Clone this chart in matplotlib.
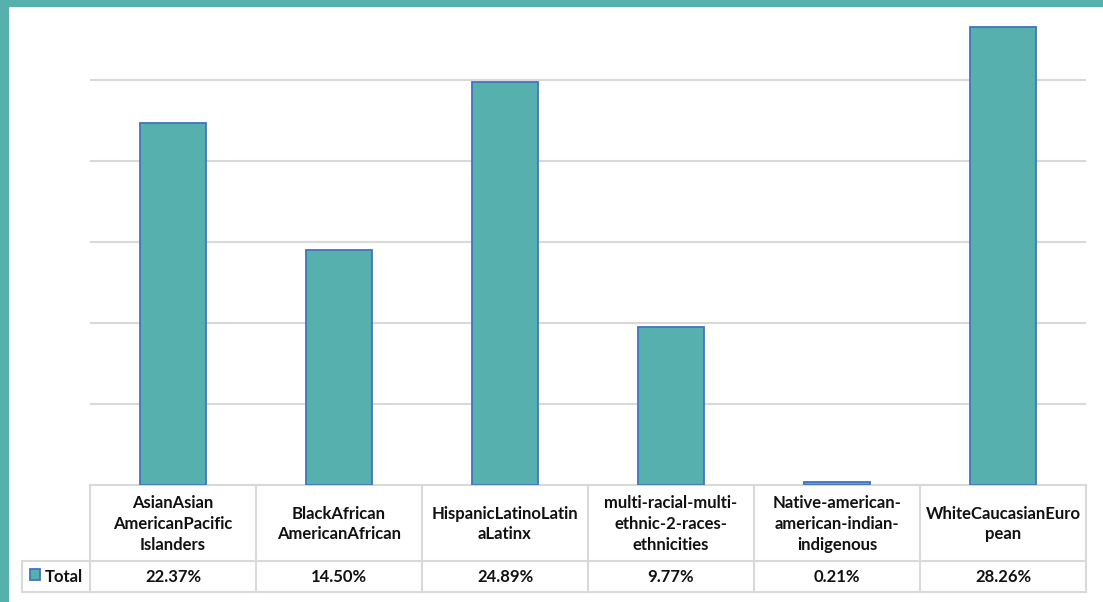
import matplotlib.pyplot as plt
import matplotlib.transforms as mtransforms
from matplotlib.patches import Rectangle

categories = ['AsianAsian\nAmericanPacific\nIslanders', 'BlackAfrican\nAmericanAfrican',
              'HispanicLatinoLatin\naLatinx', 'multi-racial-multi-\nethnic-2-races-\nethnicities',
              'Native-american-\namerican-indian-\nindigenous', 'WhiteCaucasianEuro\npean']
values = [22.37, 14.50, 24.89, 9.77, 0.21, 28.26]
series_name = 'Total'

teal = '#56b0ae'
edge = '#4472c4'
grid_c = '#d9d9d9'

plt.rcParams['font.family'] = ['Lato', 'DejaVu Sans']

W, H = 1103, 602
fig = plt.figure(figsize=(W / 100, H / 100), dpi=100)
fig.patch.set_facecolor('white')

# рамка слева и сверху
fig.patches.append(Rectangle((0, 0), 8 / W, 1, transform=fig.transFigure, color=teal, zorder=0))
fig.patches.append(Rectangle((0, 1 - 6 / H), 1, 6 / H, transform=fig.transFigure, color=teal, zorder=0))

left, right, bottom, top = 90, 1086, 485, 7
ax = fig.add_axes([left / W, 1 - bottom / H, (right - left) / W, (bottom - top) / H])
x = list(range(len(values)))
ax.bar(x, values, width=0.4, color=teal, edgecolor=edge, linewidth=1.3, zorder=3)
ax.set_xlim(-0.5, len(values) - 0.5)
ax.set_ylim(0, (bottom - top) / 16.2)
ax.set_yticks([5, 10, 15, 20, 25])
ax.yaxis.grid(True, color=grid_c, linewidth=1.5, zorder=0)
ax.tick_params(left=False, labelleft=False, bottom=False, labelbottom=False)
for s in ax.spines.values():
    s.set_visible(False)

# таблица данных: x по категориям, y в пикселях картинки
trans = mtransforms.blended_transform_factory(ax.transData, ax.transAxes)


def py(ypix):
    return (bottom - ypix) / (bottom - top)


def px(xpix):
    return -0.5 + (xpix - left) / 166.0


row1, row2 = 561, 592
lk = dict(color=grid_c, linewidth=1.5, transform=trans, clip_on=False)
n = len(values)
for i in range(n + 1):
    ax.plot([i - 0.5, i - 0.5], [py(bottom), py(row2)], **lk)
ax.plot([-0.5, n - 0.5], [py(bottom), py(bottom)], **lk)
ax.plot([px(22), n - 0.5], [py(row1), py(row1)], **lk)
ax.plot([px(22), n - 0.5], [py(row2), py(row2)], **lk)
ax.plot([px(22), px(22)], [py(row1), py(row2)], **lk)

for i, (cat, v) in enumerate(zip(categories, values)):
    ax.text(i, py((bottom + row1) / 2 + 1), cat, transform=trans, ha='center', va='center',
            fontsize=12, fontweight='bold', linespacing=1.38, color='#111111')
    ax.text(i, py((row1 + row2) / 2 + 1), '%.2f%%' % v, transform=trans, ha='center', va='center',
            fontsize=12, fontweight='bold', color='#111111')

ax.text(px(45), py((row1 + row2) / 2 + 1), series_name, transform=trans, ha='left', va='center',
        fontsize=12, fontweight='bold', color='#111111')

# квадрат легенды
ax.add_patch(Rectangle((30 / W, (602 - 580) / H), 10 / W, 11 / H, transform=fig.transFigure,
                       facecolor=teal, edgecolor=edge, linewidth=1.3, clip_on=False, zorder=5))

fig.savefig('out.png', dpi=100)
